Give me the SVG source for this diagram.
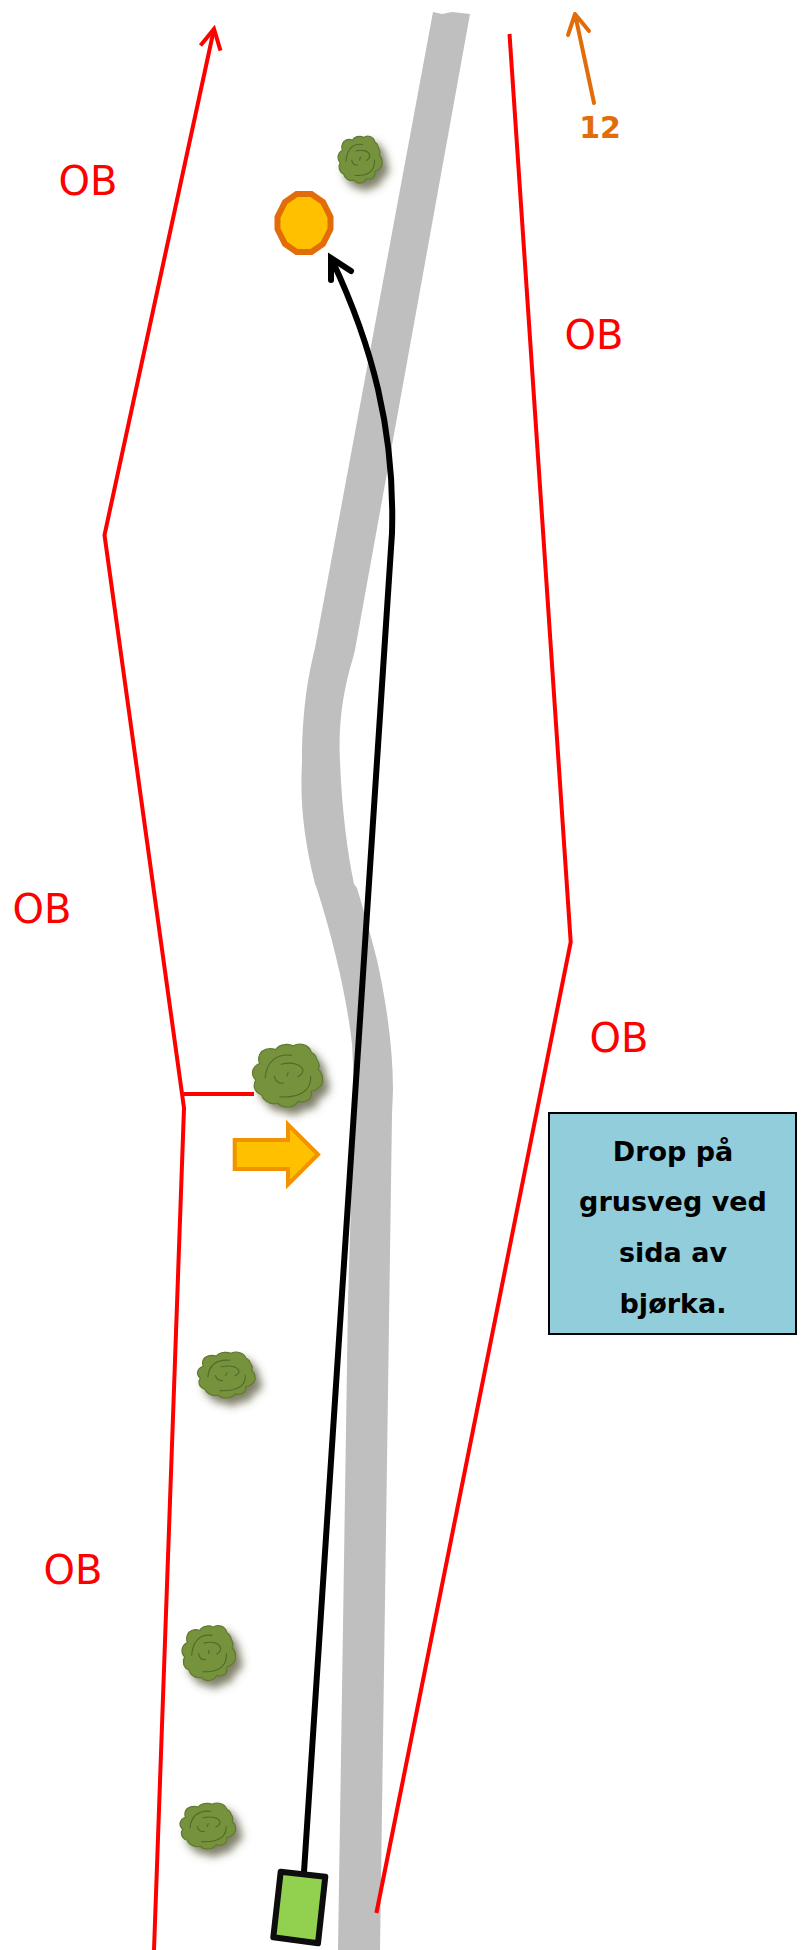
<svg xmlns="http://www.w3.org/2000/svg" xmlns:xlink="http://www.w3.org/1999/xlink" width="806" height="1950" viewBox="0 0 806 1950">
<style>
.red{fill:none;stroke:#ff0000;stroke-width:4;stroke-linejoin:miter}
.ob{font-family:"DejaVu Sans",sans-serif;font-size:40px;fill:#ff0000;text-anchor:middle}
.box{font-family:"DejaVu Sans",sans-serif;font-weight:bold;font-size:27px;fill:#000;text-anchor:middle}
.swirl{fill:none;stroke:#4f6b2a;stroke-width:1.1;vector-effect:non-scaling-stroke;stroke-linecap:round}
</style>
<defs>
<filter id="shadow" x="-30%" y="-30%" width="180%" height="180%"><feDropShadow dx="6" dy="7" stdDeviation="4" flood-color="#4a4a2a" flood-opacity="0.7"/></filter>
<g id="tree">
<path fill="#76923c" stroke="#5f7a30" stroke-width="1.2" vector-effect="non-scaling-stroke" d="M33,9 A17,17 0 0 1 46,1 A17,17 0 0 1 58,3 A17,17 0 0 1 73,1 A17,17 0 0 1 84,13 A17,17 0 0 1 92,25 A17,17 0 0 1 94,41 A17,17 0 0 1 100,54 A17,17 0 0 1 94,70 A17,17 0 0 1 84,75 A17,17 0 0 1 81,88 A17,17 0 0 1 65,91 A17,17 0 0 1 51,100 A17,17 0 0 1 36,94 A17,17 0 0 1 20,91 A17,17 0 0 1 13,81 A17,17 0 0 1 3,70 A17,17 0 0 1 5,57 A17,17 0 0 1 0,44 A17,17 0 0 1 10,31 A20,20 0 0 1 13,12 A20,20 0 0 1 33,9 Z"/>
<path class="swirl" d="M56,18 C34,15 20,28 18,54"/>
<path class="swirl" d="M83,51 C84,68 75,86 39,84"/>
<path class="swirl" d="M41,32 C56,28 70,32 72,41 C73,46 68,50 65,52"/>
<path class="swirl" d="M31,51 C33,60 38,63 44,62"/>
<path class="swirl" d="M49,51 L51,45"/>
</g>
</defs>
<rect width="806" height="1950" fill="#ffffff"/>
<g id="road">
<path fill="#bfbfbf" d="M433,12 L442,14 L452,12 L470,14 L355,650 L353,658 C343,690 338,725 340,762 C342,810 347,850 354,884 L357,888 C365,915 372,940 377,960 C387,1005 393,1050 393,1090 L392,1114 L380,1950 L338,1950 L348,1300 L354,1106 C354,1075 352,1044 352,1044 C347,1000 335,945 316,886 L315,884 C303,835 300,800 302,762 C302,715 307,680 315,648 Z"/>
</g>
<g id="connectors">
<path id="ob-left" class="red" d="M214,29 L104.5,535 L184,1108 L154,1950"/>
<path id="ob-left-head" class="red" d="M200.5,45.6 L214,29 L220.5,50.6"/>
<path id="ob-branch" class="red" d="M183.5,1094 L254,1094"/>
<path id="ob-right" class="red" d="M509.5,34 L570.7,942 L376.4,1913"/>
<path id="north-arrow" fill="none" stroke="#e36c0a" stroke-width="4" stroke-linecap="round" stroke-linejoin="round" d="M594,103 L575,14 M568,35 L575,14 L589,31"/>
<path id="route" fill="none" stroke="#000" stroke-width="6" d="M304,1872 L392,533 C395,430 372,345 332,260"/>
<path id="route-head" fill="none" stroke="#000" stroke-width="6" stroke-linecap="round" d="M331,280 L331,258 L351,271"/>
</g>
<g id="tree1" filter="url(#shadow)"><use href="#tree" xlink:href="#tree" transform="translate(338,136) scale(.44,.47)"/></g>
<g id="tree2" filter="url(#shadow)"><use href="#tree" xlink:href="#tree" transform="translate(252.5,1044) scale(.7,.63)"/></g>
<g id="tree3" filter="url(#shadow)"><use href="#tree" xlink:href="#tree" transform="translate(197.5,1352) scale(.575,.46)"/></g>
<g id="tree4" filter="url(#shadow)"><use href="#tree" xlink:href="#tree" transform="translate(182,1625.5) scale(.535,.55)"/></g>
<g id="tree5" filter="url(#shadow)"><use href="#tree" xlink:href="#tree" transform="translate(180,1803) scale(.555,.46)"/></g>
<g id="target"><polygon fill="#ffc000" stroke="#e36c0a" stroke-width="6" points="296.6,194 311.4,194 323,202 330.5,217 330.5,229 323,244 311.4,252 296.6,252 285,244 277.5,229 277.5,217 285,202"/></g>
<g id="direction-arrow"><polygon fill="#ffc000" stroke="#f39200" stroke-width="4" points="234.7,1140 288,1140 288,1124.5 318,1154.5 288,1184.5 288,1169 234.7,1169"/></g>
<g id="car"><polygon fill="#92d050" stroke="#0d0d0d" stroke-width="6" stroke-linejoin="round" points="280.7,1871.7 325.3,1876.7 318,1943.3 273.3,1937.3"/></g>
<g id="label-12"><text x="600" y="138" font-family="DejaVu Sans,sans-serif" font-weight="bold" font-size="30" fill="#e36c0a" text-anchor="middle">12</text></g>
<g id="ob-labels">
<text class="ob" x="88" y="195">OB</text>
<text class="ob" x="594" y="349">OB</text>
<text class="ob" x="42" y="923">OB</text>
<text class="ob" x="619" y="1052">OB</text>
<text class="ob" x="73" y="1584">OB</text>
</g>
<g id="note">
<rect x="549" y="1113" width="247" height="221" fill="#92cddc" stroke="#000" stroke-width="2"/>
<text class="box" x="673" y="1161">Drop på</text>
<text class="box" x="673" y="1211">grusveg ved</text>
<text class="box" x="673" y="1262">sida av</text>
<text class="box" x="673" y="1313">bjørka.</text>
</g>
</svg>
